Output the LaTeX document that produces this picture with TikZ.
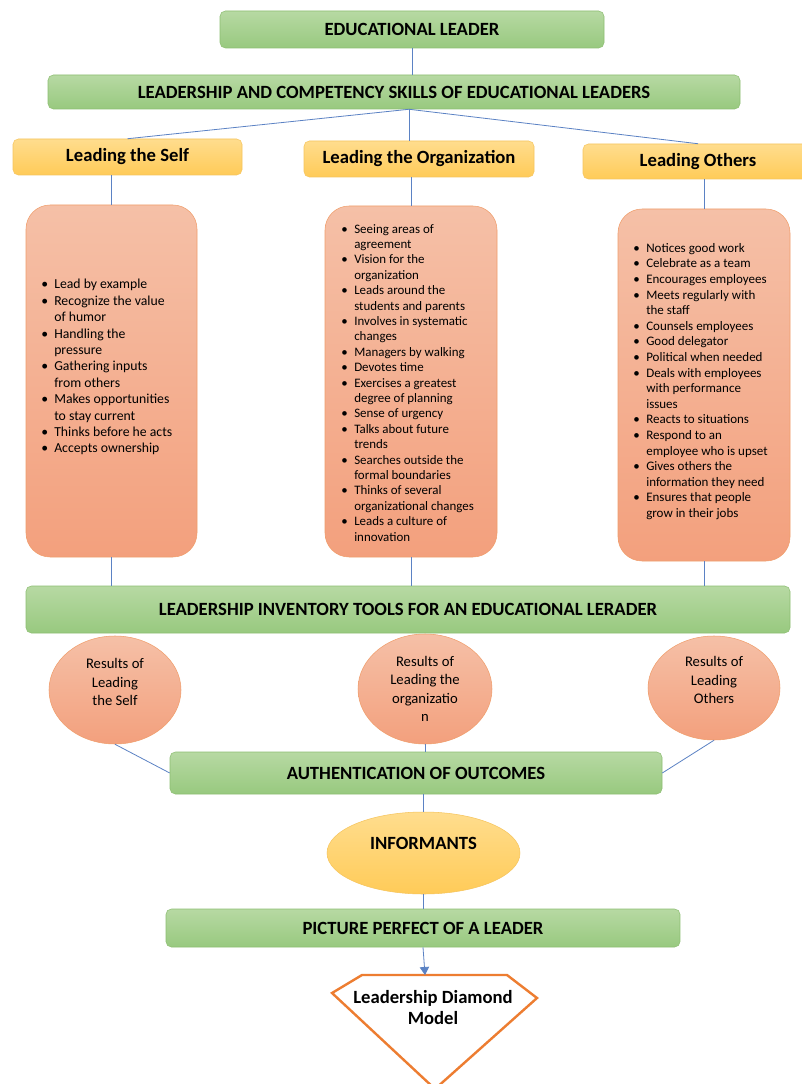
\documentclass[tikz,border=0pt]{standalone}
\usepackage{fontspec}
\setmainfont{Carlito}
\usetikzlibrary{shapes.geometric,calc}
\usetikzlibrary{arrows.meta}
\definecolor{greentop}{HTML}{B7D9A3}
\definecolor{greenbot}{HTML}{98C97F}
\definecolor{greenline}{HTML}{8DBE72}
\definecolor{goldtop}{HTML}{FFDD8E}
\definecolor{goldbot}{HTML}{FFCB58}
\definecolor{goldline}{HTML}{F6C55E}
\definecolor{salmontop}{HTML}{F5C0A7}
\definecolor{salmonbot}{HTML}{F3A07D}
\definecolor{salmonline}{HTML}{F09E6C}
\definecolor{linkblue}{HTML}{5B82C4}
\definecolor{diamondorange}{HTML}{ED7D31}
\tikzstyle{greenbox} = [rectangle, rounded corners=4pt, draw=greenline, top color=greentop, bottom color=greenbot, text centered, font=\fontsize{14}{16}\selectfont\bfseries]
\tikzstyle{goldbox} = [rectangle, rounded corners=4pt, draw=goldline, top color=goldtop, bottom color=goldbot, text centered, font=\fontsize{14}{16}\selectfont\bfseries]
\tikzstyle{listbox} = [rectangle, rounded corners=18pt, draw=salmonline, top color=salmontop, bottom color=salmonbot]
\tikzstyle{listtext} = [anchor=north west, align=left, inner sep=0pt]
\tikzstyle{result} = [ellipse, draw=salmonline, top color=salmontop, bottom color=salmonbot, align=center, inner sep=0pt, font=\fontsize{11}{13.8}\selectfont]
\tikzstyle{informant} = [ellipse, draw=goldline, top color=goldtop, bottom color=goldbot, inner sep=0pt, font=\fontsize{14}{16}\selectfont\bfseries]
\tikzstyle{link} = [draw=linkblue, line width=0.6pt]
\tikzstyle{arrow} = [link, -{Triangle[width=7pt,length=6pt]}]
\tikzstyle{gem} = [draw=diamondorange, line width=1.8pt, fill=white]
\newcommand{\bitem}{\makebox[9.75pt][l]{\textbullet}}
\newcommand{\bcont}{\hspace*{9.75pt}}

\begin{document}
\begin{tikzpicture}[x=0.75pt,y=-0.75pt]
	\path[use as bounding box, fill=white] (0,0) rectangle (802,1084);
	% top of the chart
	\node (edu) at (412,29.5) [greenbox, minimum width=288pt, minimum height=27.75pt] {EDUCATIONAL LEADER};
	\node (comp) at (394,92) [greenbox, minimum width=519pt, minimum height=25.5pt] {LEADERSHIP AND COMPETENCY SKILLS OF EDUCATIONAL LEADERS};
	\node (self) at (127.5,157) [goldbox, minimum width=171.75pt, minimum height=27pt] {Leading the Self};
	\node (org) at (419,159) [goldbox, minimum width=172.5pt, minimum height=27pt] {Leading the Organization};
	\node (oth) at (698,161.5) [goldbox, minimum width=172.5pt, minimum height=26.25pt] {Leading Others};
	% lists of skills
	\node (selfbox) at (111.5,381) [listbox, minimum width=128.25pt, minimum height=264pt] {};
	\node (orgbox) at (411,381.5) [listbox, minimum width=129pt, minimum height=263.25pt] {};
	\node (othbox) at (704,385) [listbox, minimum width=129pt, minimum height=264pt] {};
	\node (selflist) at (41,279) [listtext, font=\fontsize{10.3}{12.3}\selectfont] {\bitem Lead by example\\
		\bitem Recognize the value\\ \bcont of humor\\
		\bitem Handling the\\ \bcont pressure\\
		\bitem Gathering inputs\\ \bcont from others\\
		\bitem Makes opportunities\\ \bcont to stay current\\
		\bitem Thinks before he acts\\
		\bitem Accepts ownership};
	\node (orglist) at (341,224) [listtext, font=\fontsize{9.7}{11.55}\selectfont] {\bitem Seeing areas of\\ \bcont agreement\\
		\bitem Vision for the\\ \bcont organization\\
		\bitem Leads around the\\ \bcont students and parents\\
		\bitem Involves in systematic\\ \bcont changes\\
		\bitem Managers by walking\\
		\bitem Devotes time\\
		\bitem Exercises a greatest\\ \bcont degree of planning\\
		\bitem Sense of urgency\\
		\bitem Talks about future\\ \bcont trends\\
		\bitem Searches outside the\\ \bcont formal boundaries\\
		\bitem Thinks of several\\ \bcont organizational changes\\
		\bitem Leads a culture of\\ \bcont innovation};
	\node (othlist) at (633,243) [listtext, font=\fontsize{9.75}{11.7}\selectfont] {\bitem Notices good work\\
		\bitem Celebrate as a team\\
		\bitem Encourages employees\\
		\bitem Meets regularly with\\ \bcont the staff\\
		\bitem Counsels employees\\
		\bitem Good delegator\\
		\bitem Political when needed\\
		\bitem Deals with employees\\ \bcont with performance\\ \bcont issues\\
		\bitem Reacts to situations\\
		\bitem Respond to an\\ \bcont employee who is upset\\
		\bitem Gives others the\\ \bcont information they need\\
		\bitem Ensures that people\\ \bcont grow in their jobs};
	% inventory and results
	\node (inv) at (408,609.5) [greenbox, minimum width=573pt, minimum height=35.25pt] {LEADERSHIP INVENTORY TOOLS FOR AN EDUCATIONAL LERADER};
	\node (rself) at (115,690) [result, minimum width=99pt, minimum height=81pt, text depth=12pt] {Results of\\Leading\\the Self};
	\node (rorg) at (425,689) [result, minimum width=100.5pt, minimum height=82.5pt] {Results of\\Leading the\\organizatio\\n};
	\node (roth) at (714,688) [result, minimum width=99pt, minimum height=78pt, text depth=12pt] {Results of\\Leading\\Others};
	\node (auth) at (416,773) [greenbox, minimum width=369pt, minimum height=31.5pt] {AUTHENTICATION OF OUTCOMES};
	\node (inf) at (423.5,853) [informant, minimum width=144.75pt, minimum height=61.5pt, text depth=14pt] {INFORMANTS};
	\node (pic) at (423,928) [greenbox, minimum width=385.5pt, minimum height=28.5pt] {PICTURE PERFECT OF A LEADER};
	% diamond model
	\coordinate (dl) at (332,993);
	\coordinate (dtl) at (362,975);
	\coordinate (dtr) at (507,975);
	\coordinate (dr) at (537,998);
	\coordinate (db) at (435,1089);
	\coordinate (diatop) at (425,975);
	\draw[gem] (dl) -- (dtl) -- (dtr) -- (dr) -- (db) -- cycle;
	\node (dia) at (433,1007.5) [align=center, font=\fontsize{14}{15.75}\selectfont\bfseries] {Leadership Diamond\\Model};
	% connectors
	\coordinate (hub) at ($(comp.south)+(15,0)$);
	\draw[link] (edu.south) -- (edu.south |- comp.north);
	\draw[link] (hub) -- (self.north);
	\draw[link] (hub) -- (hub |- org.north);
	\draw[link] (hub) -- (oth.north);
	\draw[link] (selfbox.north) -- (selfbox.north |- self.south);
	\draw[link] (orgbox.north) -- (orgbox.north |- org.south);
	\draw[link] (othbox.north) -- (othbox.north |- oth.south);
	\draw[link] (selfbox.south) -- (selfbox.south |- inv.north);
	\draw[link] (orgbox.south) -- (orgbox.south |- inv.north);
	\draw[link] (othbox.south) -- (othbox.south |- inv.north);
	\draw[link] (rself.south) -- (auth.west);
	\draw[link] (rorg.south) -- (rorg.south |- auth.north);
	\draw[link] (roth.south) -- (auth.east);
	\draw[link] (inf.north |- auth.south) -- (inf.north);
	\draw[link] (inf.south) -- (inf.south |- pic.north);
	\draw[arrow] (pic.south) -- (diatop);
\end{tikzpicture}
\end{document}
